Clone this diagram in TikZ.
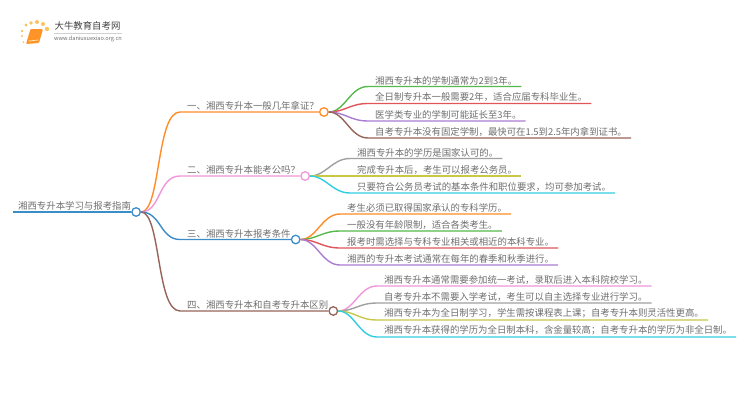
\documentclass[tikz,border=0pt]{standalone}
\usepackage{xcolor}
\usepackage{fontspec}
\setmainfont{Noto Sans CJK SC}
\usetikzlibrary{positioning}
\definecolor{mytext}{RGB}{110,110,110}
\definecolor{myorange}{RGB}{255,140,40}
\definecolor{mypink}{RGB}{240,150,220}
\definecolor{myblue}{RGB}{60,140,200}
\definecolor{mybrown}{RGB}{150,100,90}
\definecolor{mygreen}{RGB}{85,185,75}
\definecolor{myred}{RGB}{225,85,90}
\definecolor{mypurple}{RGB}{170,125,210}
\definecolor{mygraya}{RGB}{160,160,160}
\definecolor{myolive}{RGB}{200,200,70}
\definecolor{mycyan}{RGB}{50,205,225}
\definecolor{mygold}{RGB}{250,175,40}
\tikzset{
  textnode/.style={anchor=south west, inner xsep=0pt, inner ysep=1.5pt,
    text=mytext, font=\fontsize{9.4pt}{11pt}\selectfont},
  topic/.style={textnode, execute at begin node=\hspace*{7pt}},
  rootnode/.style={textnode, execute at begin node=\hspace*{5pt}},
  leaf/.style={textnode, inner xsep=4pt, execute at begin node=\hspace*{3pt}},
  hub/.style={circle, draw=#1, fill=white, minimum size=8.5pt, inner sep=0pt, line width=1.3pt},
  wire/.style={line width=1.4pt, color=#1}
}
\begin{document}
\begin{tikzpicture}[x=1pt, y=-1pt]
  \useasboundingbox (0,0) rectangle (750,410);

  % Logo
  \foreach \px/\py/\pr in {26/25/1.7, 31/23/1.9, 37/22/2, 43/24/2, 47/29/2.2, 22/31/1.4, 22/36/1.2, 23.5/42/1}
    \fill[mygold!75] (\px,\py) circle (\pr);
  \fill[myorange!80!mygold, rounded corners=1pt] (30.5,29) -- (43,29) -- (39,43) -- (26,44) -- cycle;
  \draw[mygold!40, line width=0.8pt] (28.5,41) -- (38.5,40);
  \node[text=black!75, font=\fontsize{9.4pt}{11pt}\selectfont, inner sep=0pt] (logoname) at (87.5,26) {大牛教育自考网};
  \node[text=mytext, font=\fontsize{5.6pt}{7pt}\selectfont, inner sep=0pt] (logourl) at (88,38.5) {www.daniuxuexiao.org.cn};
  \draw[mygraya!50, line width=0.5pt] (logoname.south west) ++(0,3) -- ++(68,0);

  % Root
  \node[rootnode] (root) at (13,212) {湘西专升本学习与报考指南};
  \node[hub=myblue, right=0pt of root.south east] (hub0) {};
  \draw[wire=myblue] (root.south west) -- (hub0);

  % Topics
  \node[topic] (t1) at (180,112) {一、湘西专升本一般几年拿证？};
  \node[topic] (t2) at (180,176) {二、湘西专升本能考公吗？};
  \node[topic] (t3) at (180,239.5) {三、湘西专升本报考条件};
  \node[topic] (t4) at (180,311) {四、湘西专升本和自考专升本区别};
  \node[hub=myorange, right=0pt of t1.south east] (hub1) {};
  \node[hub=mypink, right=0pt of t2.south east] (hub2) {};
  \node[hub=myblue, right=0pt of t3.south east] (hub3) {};
  \node[hub=mybrown, right=0pt of t4.south east] (hub4) {};
  \draw[wire=myorange] (hub0.east) .. controls +(20,0) and +(-24,0) .. (t1.south west) -- (hub1);
  \draw[wire=mypink] (hub0.east) .. controls +(20,0) and +(-22,0) .. (t2.south west) -- (hub2);
  \draw[wire=myblue] (hub0.east) .. controls +(20,0) and +(-20,0) .. (t3.south west) -- (hub3);
  \draw[wire=mybrown] (hub0.east) .. controls +(20,0) and +(-24,0) .. (t4.south west) -- (hub4);

  % Leaves of topic one
  \node[leaf] (a1) at (368,86.5) {湘西专升本的学制通常为2到3年。};
  \node[leaf] (a2) at (368,103.5) {全日制专升本一般需要2年，适合应届专科毕业生。};
  \node[leaf] (a3) at (368,121) {医学类专业的学制可能延长至3年。};
  \node[leaf] (a4) at (368,138) {自考专升本没有固定学制，最快可在1.5到2.5年内拿到证书。};
  \draw[wire=mygreen] (hub1.east) .. controls +(16,0) and +(-18,0) .. (a1.south west) -- (a1.south east);
  \draw[wire=myred] (hub1.east) .. controls +(16,0) and +(-18,0) .. (a2.south west) -- (a2.south east);
  \draw[wire=mypurple] (hub1.east) .. controls +(16,0) and +(-18,0) .. (a3.south west) -- (a3.south east);
  \draw[wire=mybrown] (hub1.east) .. controls +(16,0) and +(-18,0) .. (a4.south west) -- (a4.south east);

  % Leaves of topic two
  \node[leaf] (b1) at (350,158.5) {湘西专升本的学历是国家认可的。};
  \node[leaf] (b2) at (350,176) {完成专升本后，考生可以报考公务员。};
  \node[leaf] (b3) at (350,193) {只要符合公务员考试的基本条件和职位要求，均可参加考试。};
  \draw[wire=mygraya] (hub2.east) .. controls +(16,0) and +(-18,0) .. (b1.south west) -- (b1.south east);
  \draw[wire=myolive] (hub2.east) -- (b2.south west) -- (b2.south east);
  \draw[wire=mycyan] (hub2.east) .. controls +(16,0) and +(-18,0) .. (b3.south west) -- (b3.south east);

  % Leaves of topic three
  \node[leaf] (c1) at (340,214) {考生必须已取得国家承认的专科学历。};
  \node[leaf] (c2) at (340,231) {一般没有年龄限制，适合各类考生。};
  \node[leaf] (c3) at (340,248) {报考时需选择与专科专业相关或相近的本科专业。};
  \node[leaf] (c4) at (340,265) {湘西的专升本考试通常在每年的春季和秋季进行。};
  \draw[wire=myorange] (hub3.east) .. controls +(16,0) and +(-18,0) .. (c1.south west) -- (c1.south east);
  \draw[wire=mygreen] (hub3.east) .. controls +(16,0) and +(-18,0) .. (c2.south west) -- (c2.south east);
  \draw[wire=myred] (hub3.east) .. controls +(16,0) and +(-18,0) .. (c3.south west) -- (c3.south east);
  \draw[wire=mypurple] (hub3.east) .. controls +(16,0) and +(-18,0) .. (c4.south west) -- (c4.south east);

  % Leaves of topic four
  \node[leaf] (d1) at (377,286) {湘西专升本通常需要参加统一考试，录取后进入本科院校学习。};
  \node[leaf] (d2) at (377,303) {自考专升本不需要入学考试，考生可以自主选择专业进行学习。};
  \node[leaf] (d3) at (377,320) {湘西专升本为全日制学习，学生需按课程表上课；自考专升本则灵活性更高。};
  \node[leaf] (d4) at (377,337) {湘西专升本获得的学历为全日制本科，含金量较高；自考专升本的学历为非全日制。};
  \draw[wire=mypink] (hub4.east) .. controls +(16,0) and +(-18,0) .. (d1.south west) -- (d1.south east);
  \draw[wire=mygraya] (hub4.east) .. controls +(16,0) and +(-18,0) .. (d2.south west) -- (d2.south east);
  \draw[wire=myolive] (hub4.east) .. controls +(16,0) and +(-18,0) .. (d3.south west) -- (d3.south east);
  \draw[wire=mycyan] (hub4.east) .. controls +(16,0) and +(-18,0) .. (d4.south west) -- (d4.south east);
\end{tikzpicture}
\end{document}
